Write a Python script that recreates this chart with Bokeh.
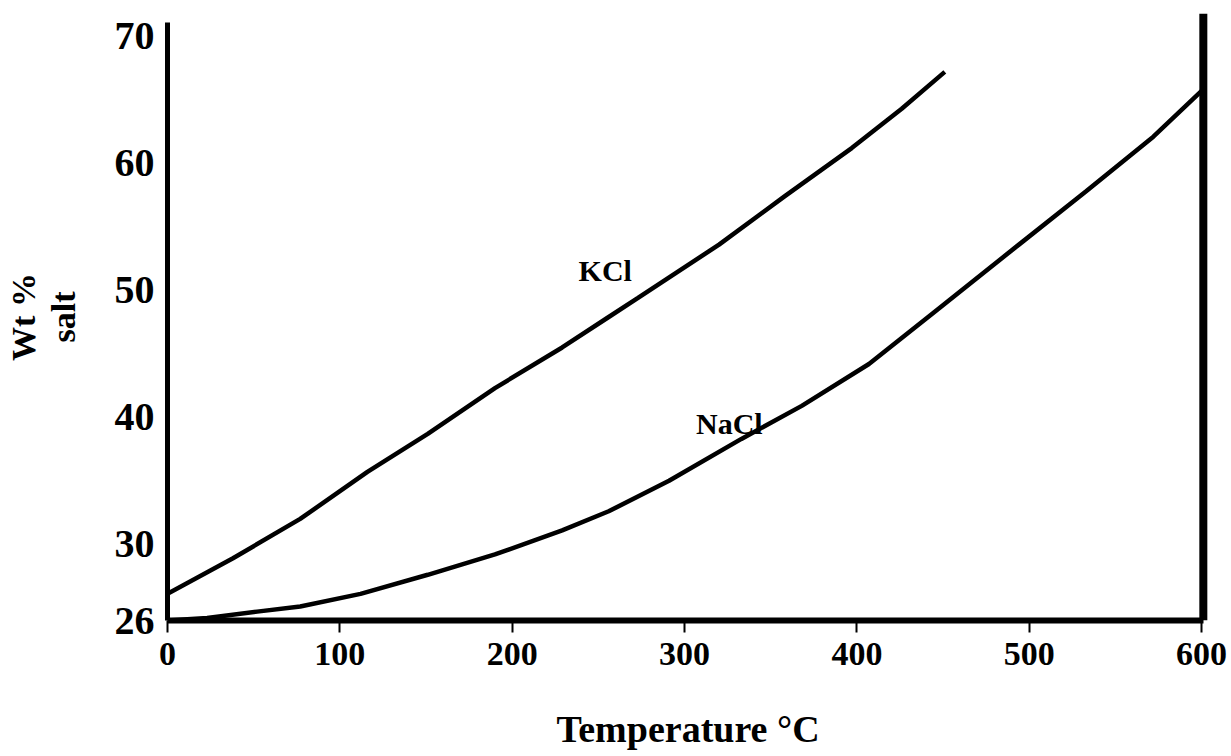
from bokeh.plotting import figure
from bokeh.models import Range1d, FixedTicker, Label, LinearAxis
from bokeh.embed import file_html
from bokeh.resources import INLINE

# ---- data ----
kcl_t = [0, 38, 77, 116, 151, 190, 229, 256, 273, 320, 358, 397, 426, 451]
kcl_w = [26.1, 28.9, 32.0, 35.7, 38.7, 42.3, 45.5, 47.9, 49.4, 53.6, 57.4, 61.2, 64.3, 67.2]

nacl_t = [0, 23, 52, 77, 112, 151, 190, 229, 256, 291, 333, 368, 407, 445, 494, 533, 572, 600]
nacl_w = [24.0, 24.2, 24.7, 25.1, 26.1, 27.6, 29.2, 31.1, 32.6, 35.0, 38.3, 40.9, 44.2, 48.3, 53.6, 57.8, 62.1, 65.7]

x_ticks = [0, 100, 200, 300, 400, 500, 600]
y_ticks = [24, 30, 40, 50, 60, 70]
y_tick_labels = ["26", "30", "40", "50", "60", "70"]

FONT = "Liberation Serif"

p = figure(width=1231, height=756, output_backend="svg", toolbar_location=None,
           x_range=Range1d(0, 604), y_range=Range1d(24, 71.8),
           min_border_left=167, min_border_right=23, min_border_top=13, min_border_bottom=136)
p.outline_line_color = None
p.xgrid.visible = False
p.ygrid.visible = False
p.background_fill_color = "white"
p.border_fill_color = "white"

# x axis
xa = p.xaxis[0]
xa.ticker = FixedTicker(ticks=x_ticks)
xa.bounds = (0, 601)
xa.axis_line_width = 6
xa.axis_line_color = "black"
xa.major_tick_out = 12
xa.major_tick_in = 0
xa.major_tick_line_width = 2
xa.minor_tick_line_color = None
xa.major_label_standoff = 10
xa.major_label_text_font = FONT
xa.major_label_text_font_style = "bold"
xa.major_label_text_font_size = "34px"
xa.major_label_text_color = "black"
xa.axis_label = "Temperature °C"
xa.axis_label_standoff = 40
xa.axis_label_text_font = FONT
xa.axis_label_text_font_style = "bold"
xa.axis_label_text_font_size = "38px"
xa.axis_label_text_color = "black"

# y axis
ya = p.yaxis[0]
ya.ticker = FixedTicker(ticks=y_ticks)
ya.major_label_overrides = {t: s for t, s in zip(y_ticks, y_tick_labels)}
ya.bounds = (24, 71.1)
ya.axis_line_width = 5
ya.axis_line_color = "black"
ya.major_tick_out = 0
ya.major_tick_in = 0
ya.minor_tick_line_color = None
ya.major_label_standoff = 13
ya.major_label_text_font = FONT
ya.major_label_text_font_style = "bold"
ya.major_label_text_font_size = "40px"
ya.major_label_text_color = "black"

# y axis title in two lines: "salt" next to the tick labels, "Wt %" outside it
for txt, so in [("salt", 30), ("Wt %", 0)]:
    ax = LinearAxis(ticker=FixedTicker(ticks=[]), axis_line_color=None,
                    major_tick_line_color=None, minor_tick_line_color=None,
                    major_tick_out=0, major_tick_in=0, minor_tick_out=0, minor_tick_in=0,
                    major_label_standoff=0, axis_label=txt, axis_label_standoff=so,
                    axis_label_text_font=FONT, axis_label_text_font_style="bold",
                    axis_label_text_font_size="34px", axis_label_text_color="black")
    p.add_layout(ax, "left")

# right border bar
p.segment(x0=[601], y0=[24], x1=[601], y1=[71.8], line_width=8, line_color="black")

# curves
p.line(kcl_t, kcl_w, line_width=4.5, line_color="black")
p.line(nacl_t, nacl_w, line_width=4.5, line_color="black")

# curve labels
for txt, x, y in [("KCl", 254, 51.6), ("NaCl", 326, 39.5)]:
    p.add_layout(Label(x=x, y=y, text=txt, text_font=FONT, text_font_style="bold",
                       text_font_size="30px", text_align="center", text_baseline="middle",
                       text_color="black"))

open("out.html", "w").write(file_html(p, INLINE))
